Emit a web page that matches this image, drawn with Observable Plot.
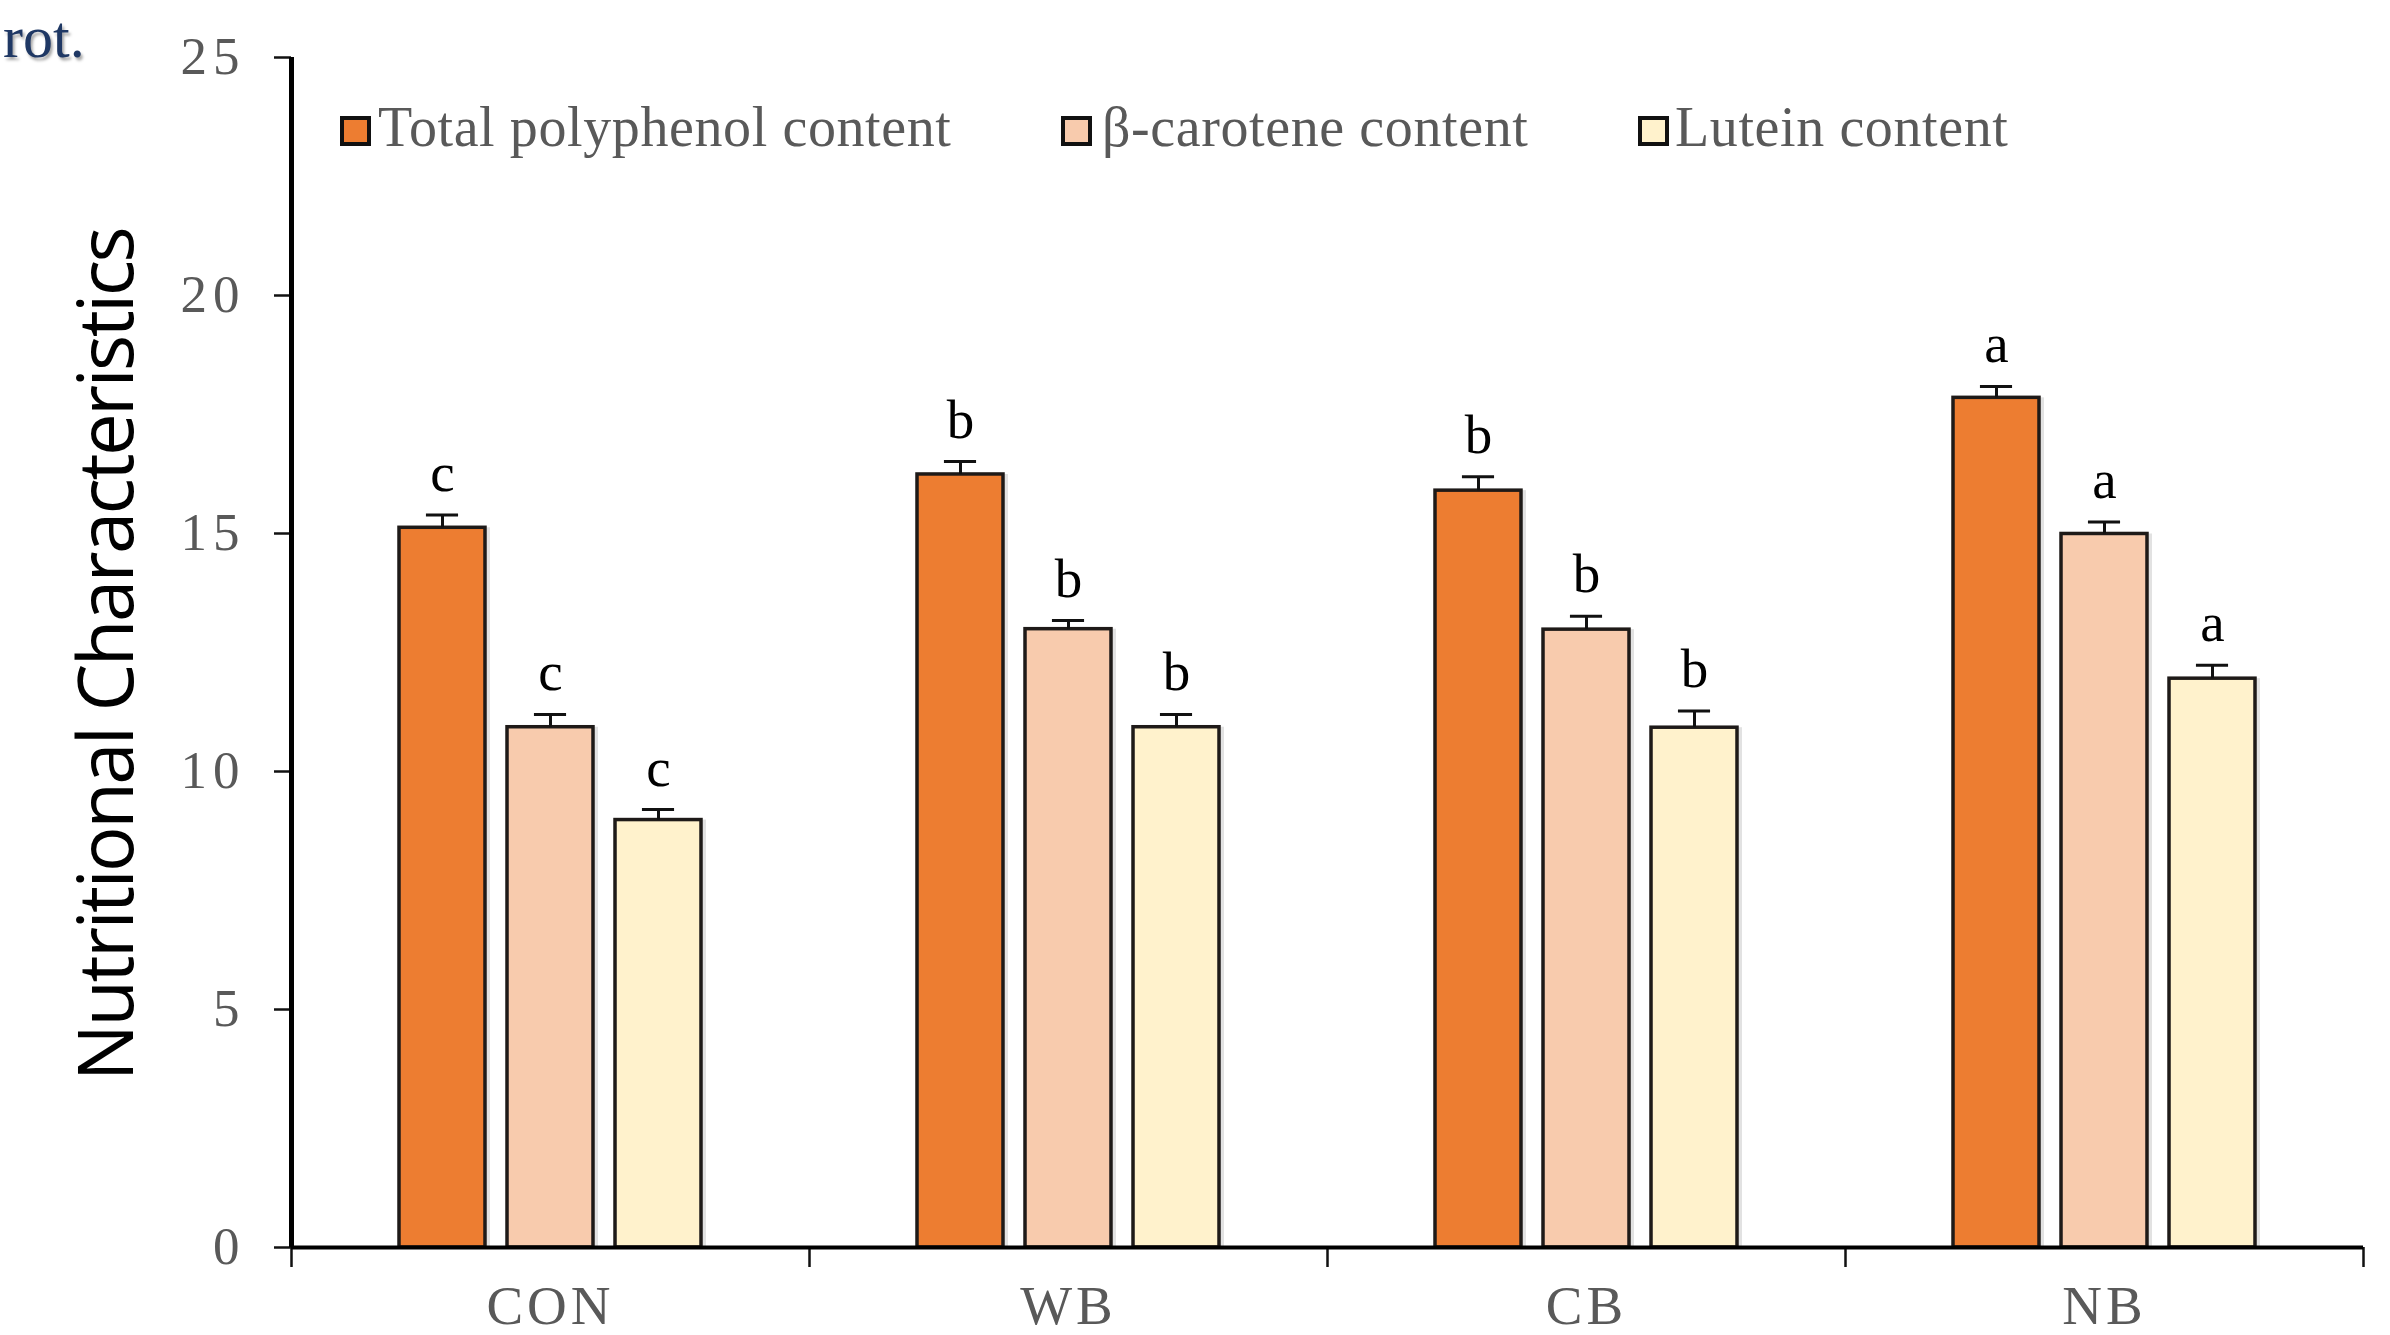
<!DOCTYPE html>
<html>
<head>
<meta charset="utf-8">
<script src="https://cdn.jsdelivr.net/npm/d3@7"></script>
<script src="https://cdn.jsdelivr.net/npm/@observablehq/plot@0.6"></script>
<style>
  html, body { margin: 0; padding: 0; background: #fff; }
  #wrap { position: relative; width: 2390px; height: 1335px; overflow: hidden; background: #fff; }
  #chart svg { display: block; }
  g[aria-label="y-axis tick label"] text { letter-spacing: 6px; }
  g[aria-label="x-axis tick label"] text { letter-spacing: 4px; }
  #rot { position: absolute; left: 3px; top: 3px; font-family: "Liberation Serif", serif; font-size: 60px; line-height: normal;
         color: #1F3864; text-shadow: 2px 3px 3px rgba(0,0,0,0.35); white-space: nowrap; }
  #ytitle { position: absolute; left: 104px; top: 655px; transform: translate(-50%, -50%) rotate(-90deg);
            font: 76px/1 "Open Sans", sans-serif; letter-spacing: -2.6px; color: #000; white-space: nowrap; }
  .lbox { position: absolute; box-sizing: border-box; width: 31px; height: 30px; border: 4px solid #111; }
  .ltxt { position: absolute; font: 56px/1 "Liberation Serif", serif; color: #595959; white-space: nowrap; letter-spacing: 0.6px; }
</style>
</head>
<body>
<div id="wrap">
  <div id="chart"></div>
  <div id="rot">rot.</div>
  <div id="ytitle">Nutritional Characteristics</div>
  <div id="legend"></div>
</div>
<script>
// ---- data ----
const categories = ["CON", "WB", "CB", "NB"];
const series = ["Total polyphenol content", "β-carotene content", "Lutein content"];
const colors = ["#ED7D31", "#F8CBAD", "#FFF2CC"];

const polyphenol     = [15.12, 16.24, 15.90, 17.85];
const polyphenolErr  = [0.27, 0.27, 0.29, 0.24];
const betaCarotene   = [10.93, 12.99, 12.98, 14.99];
const betaCaroteneErr= [0.27, 0.18, 0.28, 0.25];
const lutein         = [8.98, 10.93, 10.92, 11.95];
const luteinErr      = [0.22, 0.27, 0.35, 0.28];

const polyphenolLetters   = ["c", "b", "b", "a"];
const betaCaroteneLetters = ["c", "b", "b", "a"];
const luteinLetters       = ["c", "b", "b", "a"];

const yTicks = [0, 5, 10, 15, 20, 25];

// ---- build table ----
const values = [polyphenol, betaCarotene, lutein];
const errors = [polyphenolErr, betaCaroteneErr, luteinErr];
const letters = [polyphenolLetters, betaCaroteneLetters, luteinLetters];
const data = [];
categories.forEach((c, i) => series.forEach((s, j) => data.push({
  cat: c, i, j, series: s, value: values[j][i], err: errors[j][i], letter: letters[j][i]
})));

// layout within each category band (band = 1 unit)
const step = 0.2085, barW = 0.166, capHalf = 0.031;
const cx = d => d.i + 0.5 + (d.j - 1) * step;

const chart = Plot.plot({
  width: 2390,
  height: 1335,
  marginLeft: 291,
  marginRight: 27,
  marginTop: 57,
  marginBottom: 88,
  x: { type: "linear", domain: [0, categories.length] },
  y: { domain: [0, 25] },
  color: { domain: series, range: colors },
  style: { fontFamily: "'Liberation Serif', 'Times New Roman', serif", background: "white", overflow: "visible" },
  marks: [
    // soft shadow at right of bars
    Plot.rectY(data, { x1: d => cx(d) - barW / 2, x2: d => cx(d) + barW / 2, y1: 0, y2: "value", fill: "#e2e2e2", dx: 5 }),
    Plot.rectY(data, { x1: d => cx(d) - barW / 2, x2: d => cx(d) + barW / 2, y1: 0, y2: "value",
                       fill: "series", stroke: "#1e1a18", strokeWidth: 3.5 }),
    // error bars (upper only)
    Plot.ruleX(data, { x: cx, y1: "value", y2: d => d.value + d.err, stroke: "#111", strokeWidth: 3 }),
    Plot.ruleY(data, { y: d => d.value + d.err, x1: d => cx(d) - capHalf, x2: d => cx(d) + capHalf, stroke: "#111", strokeWidth: 3 }),
    // significance letters
    Plot.text(data, { x: cx, y: d => d.value + d.err, text: "letter", lineAnchor: "bottom", dy: -24,
                      fontSize: 55, fill: "#000" }),
    // axes
    Plot.axisY({ ticks: yTicks, tickSize: 17, tickPadding: 29, fontSize: 53, fill: "#595959",
                 stroke: "#111", strokeWidth: 2.5, label: null }),
    Plot.axisX({ ticks: d3.range(categories.length + 1), tickSize: 20, tickFormat: () => "",
                 stroke: "#111", strokeWidth: 2.5, label: null }),
    Plot.axisX({ ticks: categories.map((_, i) => i + 0.5), tickSize: 0, tickPadding: 37,
                 tickFormat: v => categories[Math.floor(v)], fontSize: 55, fill: "#595959", label: null }),
    Plot.ruleX([0], { stroke: "#000", strokeWidth: 5 }),
    Plot.ruleY([0], { stroke: "#000", strokeWidth: 4 })
  ]
});
document.getElementById("chart").appendChild(chart);

// ---- legend (HTML overlay inside plot area) ----
const legend = document.getElementById("legend");
const boxLeft = [340, 1061, 1638];
const txtLeft = [378, 1102, 1675];
series.forEach((s, k) => {
  const b = document.createElement("div");
  b.className = "lbox";
  b.style.left = boxLeft[k] + "px";
  b.style.top = "116px";
  b.style.background = colors[k];
  legend.appendChild(b);
  const t = document.createElement("div");
  t.className = "ltxt";
  t.style.left = txtLeft[k] + "px";
  t.style.top = "99px";
  t.textContent = s;
  legend.appendChild(t);
});
</script>
</body>
</html>
